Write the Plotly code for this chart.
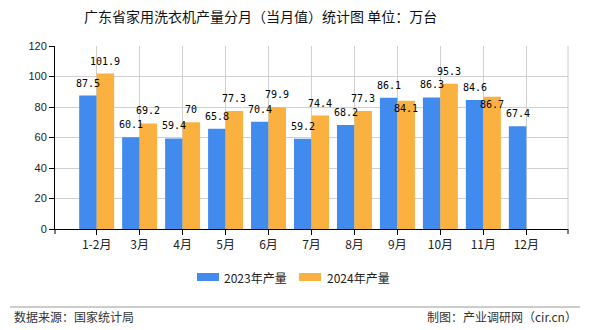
import plotly.graph_objects as go

categories = ["1-2月", "3月", "4月", "5月", "6月", "7月", "8月", "9月", "10月", "11月", "12月"]
prod_2023 = [87.5, 60.1, 59.4, 65.8, 70.4, 59.2, 68.2, 86.1, 86.3, 84.6, 67.4]
prod_2024 = [101.9, 69.2, 70, 77.3, 79.9, 74.4, 77.3, 84.1, 95.3, 86.7, None]
series_names = ["2023年产量", "2024年产量"]
y_ticks = [0, 20, 40, 60, 80, 100, 120]

# label vertical offsets (px) relative to bar tops, mirroring the reference placement
shift_2023 = [12.5] * 11
shift_2024 = [12.5, 12.5, 12.5, 12.5, 12.5, 12.5, 12.5, -8, 12.5, -8, 0]

BLUE = "#428BEE"
ORANGE = "#FBB13F"

# plot-area geometry in pixels (for paper-coordinate decorations)
L, R, T, B = 55, 568, 46, 229
PW, PH = R - L, B - T


def px(x):
    return (x - L) / PW


def py(y):
    return (B - y) / PH


fig = go.Figure()
fig.add_trace(go.Bar(x=categories, y=prod_2023, name=series_names[0], marker_color=BLUE,
                     marker_line_width=0, showlegend=False))
fig.add_trace(go.Bar(x=categories, y=prod_2024, name=series_names[1], marker_color=ORANGE,
                     marker_line_width=0, showlegend=False))

label_font = dict(family="DejaVu Sans Mono", size=10, color="#000000")
annotations = []
for i, c in enumerate(categories):
    for vals, shifts, xs in ((prod_2023, shift_2023, -8.8), (prod_2024, shift_2024, 8.8)):
        v = vals[i]
        if v is None:
            continue
        annotations.append(dict(x=c, y=v, xref="x", yref="y", text=f"{v:g}", showarrow=False,
                                xshift=xs, yshift=shifts[i], yanchor="middle",
                                font=label_font))

legend_font = dict(family="Noto Sans CJK SC", size=12, color="#222222")
annotations += [
    dict(text="广东省家用洗衣机产量分月（当月值）统计图 单位：万台", xref="paper", yref="paper",
         x=px(260), y=py(16), xanchor="center", yanchor="middle",
         showarrow=False, font=dict(family="Noto Sans CJK SC", size=14, color="#111111")),
    dict(text="数据来源：国家统计局", xref="paper", yref="paper",
         x=px(12), y=py(316), xanchor="left", yanchor="middle",
         showarrow=False, font=dict(family="Noto Sans CJK SC", size=12, color="#333333")),
    dict(text="制图：产业调研网（cir.cn）", xref="paper", yref="paper",
         x=px(579), y=py(316), xanchor="right", yanchor="middle",
         showarrow=False, font=dict(family="Noto Sans CJK SC", size=12, color="#333333")),
    # legend texts
    dict(text=series_names[0], xref="paper", yref="paper", x=px(222), y=py(277),
         xanchor="left", yanchor="middle", showarrow=False, font=legend_font),
    dict(text=series_names[1], xref="paper", yref="paper", x=px(325), y=py(277),
         xanchor="left", yanchor="middle", showarrow=False, font=legend_font),
]

shapes = [
    # separator line above footer
    dict(type="line", xref="paper", yref="paper", x0=px(10), x1=px(580),
         y0=py(307), y1=py(307), line=dict(color="#999999", width=1)),
    # right frame line
    dict(type="line", xref="paper", yref="paper", x0=1, x1=1, y0=0, y1=1,
         line=dict(color="#cccccc", width=1)),
    # edge ticks on the x axis
    dict(type="line", xref="paper", yref="paper", x0=0, x1=0, y0=0, y1=-5 / PH,
         line=dict(color="#000000", width=1)),
    dict(type="line", xref="paper", yref="paper", x0=1, x1=1, y0=0, y1=-5 / PH,
         line=dict(color="#000000", width=1)),
    # legend swatches
    dict(type="rect", xref="paper", yref="paper", x0=px(197), x1=px(219), y0=py(281), y1=py(273),
         fillcolor=BLUE, line=dict(width=0)),
    dict(type="rect", xref="paper", yref="paper", x0=px(299), x1=px(321), y0=py(281), y1=py(273),
         fillcolor=ORANGE, line=dict(width=0)),
]

fig.update_layout(
    width=590, height=330,
    margin=dict(l=L, r=590 - R, t=T, b=330 - B),
    paper_bgcolor="white", plot_bgcolor="white",
    barmode="group", bargap=0.186, bargroupgap=0,
    showlegend=False,
    annotations=annotations,
    shapes=shapes,
    xaxis=dict(type="category", range=[-0.97, 10.97], showgrid=True, gridcolor="#d0d0d0",
               showline=True, linecolor="#000000", linewidth=1,
               ticks="outside", ticklen=5, tickcolor="#000000",
               tickfont=dict(family="Noto Sans CJK SC", size=12, color="#222222"),
               zeroline=False, fixedrange=True),
    yaxis=dict(range=[0, 120], tickvals=y_ticks, showgrid=True, gridcolor="#d0d0d0",
               showline=True, linecolor="#000000", linewidth=1,
               ticks="outside", ticklen=5, tickcolor="#000000",
               tickfont=dict(family="Liberation Sans", size=11, color="#222222"),
               zeroline=False, fixedrange=True),
)

fig.write_html("out.html")
